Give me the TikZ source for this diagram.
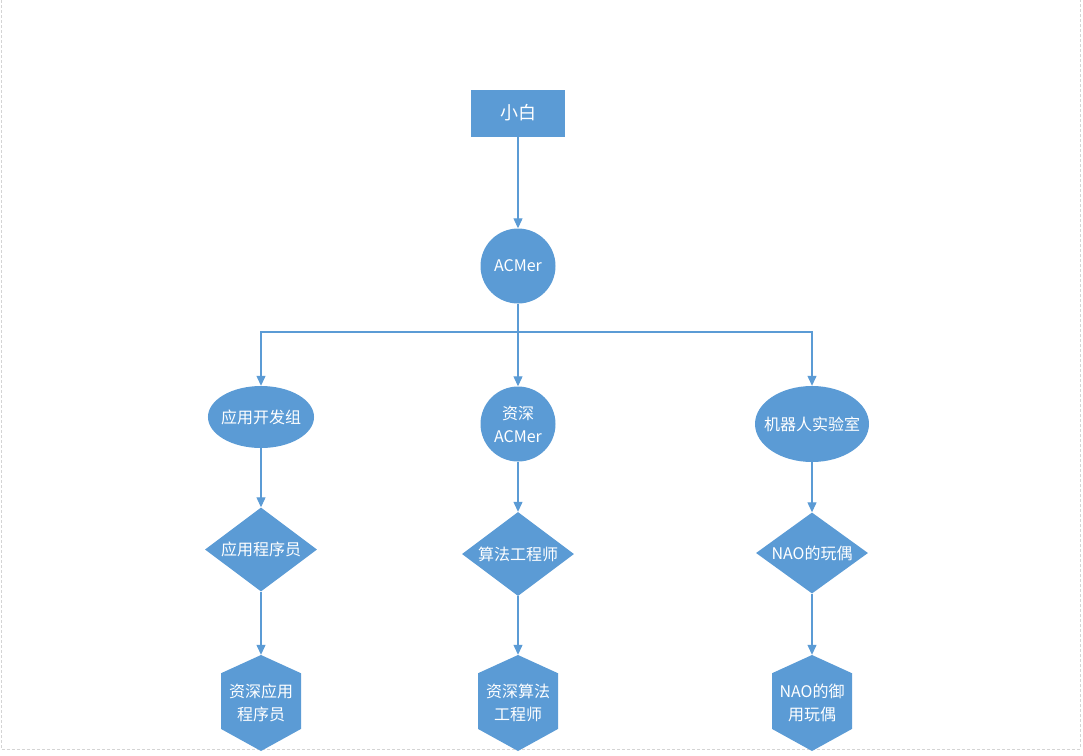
\documentclass[tikz,border=0pt]{standalone}
\usepackage{fontspec}
\setmainfont{Noto Sans CJK SC}
\usetikzlibrary{shapes.geometric,arrows.meta,calc}
\definecolor{flow}{HTML}{5B9BD5}
\definecolor{pageedge}{HTML}{D4D4D4}
\begin{document}
\begin{tikzpicture}[x=1pt,y=-1pt,
  every node/.style={text=white,font=\fontsize{16}{23}\selectfont,inner sep=0pt,align=center},
  base/.style={fill=flow,draw=none},
  startbox/.style={base,rectangle,minimum width=94pt,minimum height=47pt,font=\fontsize{18}{22}\selectfont},
  roundnode/.style={base,circle,minimum size=75pt},
  ovalnode/.style={base,ellipse,minimum width=#1,minimum height=62pt},
  decision/.style={base,diamond,shape aspect=1.33,minimum width=112pt,minimum height=84pt},
  hexnode/.style={rectangle,minimum width=80pt,minimum height=96pt,
    path picture={\fill[flow]
      (path picture bounding box.north)
      -- ($(path picture bounding box.north east)!0.19!(path picture bounding box.south east)$)
      -- ($(path picture bounding box.north east)!0.77!(path picture bounding box.south east)$)
      -- (path picture bounding box.south)
      -- ($(path picture bounding box.north west)!0.77!(path picture bounding box.south west)$)
      -- ($(path picture bounding box.north west)!0.19!(path picture bounding box.south west)$)
      -- cycle;}},
  link/.style={draw=flow,line width=1.2pt},
  arrow/.style={link,-{Triangle[length=10pt,width=9pt]}}
]
% page area
\useasboundingbox (0,0) rectangle (1083,755);
\draw[pageedge,line width=0.8pt,dash pattern=on 3pt off 2pt]
  (1,0) -- (1,749) -- (1080,749) -- (1080,0);

% nodes
\node[startbox] (xb) at (518,113) {小白};
\node[roundnode] (acm) at (518,266) {ACMer};

\node[ovalnode=106pt,inner xsep=-2.5pt] (g1) at (261,417) {应用开发组};
\node[roundnode] (g2) at (518,424) {资深\\ACMer};
\node[ovalnode=114pt,minimum height=76pt,inner xsep=-8pt] (g3) at (812,424) {机器人实验室};

\node[decision] (d1) at (261,549.5) {应用程序员};
\node[decision] (d2) at (518,554) {算法工程师};
\node[decision,minimum height=81pt] (d3) at (812,553) {NAO的玩偶};

\node[hexnode] (h1) at (261,703) {资深应用\\程序员};
\node[hexnode] (h2) at (518,703) {资深算法\\工程师};
\node[hexnode] (h3) at (812,703) {NAO的御\\用玩偶};

% connectors
\coordinate (bus) at (518,332);
\draw[arrow] (xb) -- (acm);
\draw[link] (acm) -- (bus);
\draw[arrow] (bus) -| (g1.north);
\draw[arrow] (bus) -- (g2);
\draw[arrow] (bus) -| (g3.north);

\draw[arrow] (g1) -- (d1);
\draw[arrow] (g2) -- (d2);
\draw[arrow] (g3) -- (d3);

\draw[arrow] (d1) -- (h1.north);
\draw[arrow] (d2) -- (h2.north);
\draw[arrow] (d3) -- (h3.north);
\end{tikzpicture}
\end{document}
